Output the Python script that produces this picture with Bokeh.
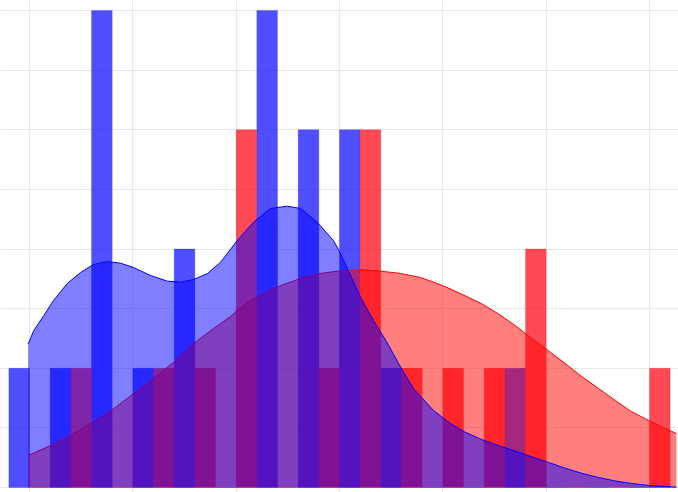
from bokeh.plotting import figure
from bokeh.models import Range1d, FixedTicker
from bokeh.embed import file_html
from bokeh.resources import INLINE

# ---- data ----
bin_edges = [-0.2, 0.2, 0.6, 1.0, 1.4, 1.8, 2.2, 2.6, 3.0, 3.4, 3.8, 4.2, 4.6, 5.0, 5.4, 5.8, 6.2]
blue_counts = [1, 1, 4, 1, 2, 0, 4, 3, 3, 1, 0, 0, 1, 0, 0, 0]
red_counts = [0, 1, 0, 1, 1, 3, 0, 1, 3, 1, 1, 1, 2, 0, 0, 1]

blue_kde_x = [-0.013, 0.042, 0.138, 0.232, 0.365, 0.494, 0.619, 0.755, 0.881, 1.006,
              1.171, 1.335, 1.461, 1.587, 1.723, 1.849, 2.010, 2.168, 2.333, 2.494,
              2.623, 2.784, 2.942, 2.995, 3.075, 3.203, 3.329, 3.462, 3.591, 3.716,
              3.910, 4.074, 4.216, 4.374, 4.539, 4.700, 4.858, 5.023, 5.184, 5.342,
              5.507, 5.668, 5.826, 5.991, 6.261]
blue_kde_y = [1.205, 1.317, 1.442, 1.568, 1.711, 1.803, 1.870, 1.895, 1.881, 1.845,
              1.778, 1.730, 1.722, 1.744, 1.795, 1.889, 2.071, 2.225, 2.340, 2.359,
              2.340, 2.225, 2.071, 1.987, 1.836, 1.596, 1.400, 1.213, 1.010, 0.830,
              0.646, 0.537, 0.464, 0.403, 0.352, 0.305, 0.258, 0.210, 0.162, 0.120,
              0.084, 0.055, 0.034, 0.017, 0.003]

red_kde_x = [-0.013, 0.203, 0.397, 0.590, 0.784, 1.006, 1.200, 1.394, 1.587, 1.781,
             1.945, 2.010, 2.168, 2.333, 2.494, 2.652, 2.816, 2.978, 3.203, 3.397,
             3.591, 3.784, 3.946, 4.055, 4.216, 4.374, 4.539, 4.700, 4.858, 5.023,
             5.184, 5.342, 5.507, 5.668, 5.826, 5.991, 6.152, 6.261]
red_kde_y = [0.268, 0.352, 0.436, 0.537, 0.640, 0.788, 0.914, 1.051, 1.208, 1.333,
             1.434, 1.484, 1.585, 1.660, 1.713, 1.761, 1.795, 1.814, 1.826, 1.814,
             1.795, 1.761, 1.711, 1.672, 1.608, 1.542, 1.455, 1.358, 1.252, 1.146,
             1.040, 0.932, 0.830, 0.730, 0.636, 0.562, 0.495, 0.453]

x_grid = [0, 1, 2, 3, 4, 5, 6]
y_grid = [0, 0.5, 1, 1.5, 2, 2.5, 3, 3.5, 4]

# ---- figure ----
p = figure(width=678, height=492, output_backend="svg", toolbar_location=None,
           x_range=Range1d(-0.281, 6.281), y_range=Range1d(-0.042, 4.084),
           x_axis_location=None, y_axis_location=None, min_border=0)
p.outline_line_color = None
p.background_fill_color = "white"
p.border_fill_color = "white"
p.xgrid.ticker = FixedTicker(ticks=x_grid)
p.ygrid.ticker = FixedTicker(ticks=y_grid)
p.grid.grid_line_color = "#e8e8e8"
p.grid.grid_line_width = 1

half = [(bin_edges[i + 1] - bin_edges[i]) / 2 for i in range(len(blue_counts))]
lefts = bin_edges[:-1]
mids = [lefts[i] + half[i] for i in range(len(lefts))]
rights = bin_edges[1:]

p.quad(left=lefts, right=mids, bottom=0, top=blue_counts,
       fill_color="blue", fill_alpha=0.69, line_color="blue", line_alpha=0.2)
p.quad(left=mids, right=rights, bottom=0, top=red_counts,
       fill_color="#ff000f", fill_alpha=0.71, line_color="red", line_alpha=0.2)

p.varea(x=red_kde_x, y1=0, y2=red_kde_y, fill_color="red", fill_alpha=0.5)
p.line(x=red_kde_x, y=red_kde_y, line_color="red", line_width=1)
p.varea(x=blue_kde_x, y1=0, y2=blue_kde_y, fill_color="blue", fill_alpha=0.5)
p.line(x=blue_kde_x, y=blue_kde_y, line_color="blue", line_width=1)

open("out.html", "w").write(file_html(p, INLINE))
